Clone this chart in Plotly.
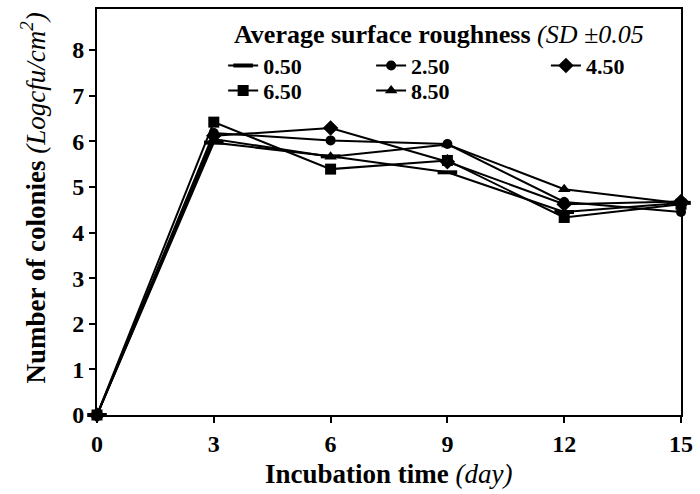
import plotly.graph_objects as go

days = [0, 3, 6, 9, 12, 15]
r050 = [0, 5.97, 5.67, 5.32, 4.45, 4.65]
r250 = [0, 6.18, 6.02, 5.94, 4.67, 4.45]
r450 = [0, 6.12, 6.29, 5.55, 4.62, 4.68]
r650 = [0, 6.42, 5.39, 5.58, 4.33, 4.62]
r850 = [0, 6.05, 5.66, 5.93, 4.95, 4.64]

names = ["0.50", "2.50", "4.50", "6.50", "8.50"]
series = [r050, r250, r450, r650, r850]
symbols = ["line-ew", "circle", "diamond", "square", "triangle-up"]
sizes = [14, 10, 12, 11, 11]
legends = ["legend2", "legend3", "legend4", "legend5", "legend6"]
# legend item positions in pixels (left x, centre y)
leg_pos = [(224, 64), (373, 64), (549, 64), (224, 89), (373, 89)]

FONT = "Liberation Serif, Times New Roman, serif"
L, R, T, B = 97, 685, 7, 415

def px(xp):
    return (xp - L) / (R - L)

def py(yp):
    return (B - yp) / (B - T)

fig = go.Figure()
for n, s, sym, sz, lg in zip(names, series, symbols, sizes, legends):
    mk = dict(symbol=sym, size=sz, color="black")
    if sym == "line-ew":
        mk["line"] = dict(width=4, color="black")
    fig.add_trace(go.Scatter(
        x=days, y=s, name="<b>" + n + "</b>", mode="lines+markers",
        line=dict(color="black", width=2), marker=mk,
        cliponaxis=False, legend=lg, showlegend=True,
    ))

layout_legends = {}
for lg, (lx, ly) in zip(legends, leg_pos):
    layout_legends[lg] = dict(
        x=px(lx), y=py(ly), xanchor="left", yanchor="middle",
        orientation="v",
        font=dict(family=FONT, size=22, color="black"),
        bgcolor="rgba(0,0,0,0)", itemwidth=30,
    )

fig.update_layout(
    width=700, height=494,
    margin=dict(l=L, r=700 - R, t=T, b=494 - B),
    plot_bgcolor="white", paper_bgcolor="white",
    font=dict(family=FONT, color="black"),
    showlegend=True,
    **layout_legends,
    xaxis=dict(
        range=[0, 15], tickvals=[0, 3, 6, 9, 12, 15],
        showline=True, linecolor="black", linewidth=2, mirror=True,
        ticks="outside", ticklen=6, tickwidth=1.5, tickcolor="black",
        showgrid=False, zeroline=False,
        tickfont=dict(family=FONT, size=24, color="black", weight="bold"),
    ),
    yaxis=dict(
        range=[0, 8.9], tickvals=list(range(0, 9)),
        showline=True, linecolor="black", linewidth=2, mirror=True,
        ticks="outside", ticklen=6, tickwidth=1.5, tickcolor="black",
        showgrid=False, zeroline=False,
        tickfont=dict(family=FONT, size=24, color="black", weight="bold"),
    ),
)

fig.add_annotation(
    text="<b>Average surface roughness</b> <i>(SD ±0.05</i>",
    xref="paper", yref="paper", x=px(441), y=py(33),
    xanchor="center", yanchor="middle", showarrow=False,
    font=dict(family=FONT, size=26, color="black"),
)
fig.add_annotation(
    text="<b>Incubation time</b> <i>(day)</i>",
    xref="paper", yref="paper", x=0.5, y=py(474),
    xanchor="center", yanchor="middle", showarrow=False,
    font=dict(family=FONT, size=27, color="black"),
)
fig.add_annotation(
    text="<b>Number of colonies</b> <i>(Logcfu/cm<sup>2</sup>)</i>",
    xref="paper", yref="paper", x=px(33), y=py(197),
    xanchor="center", yanchor="middle", showarrow=False, textangle=-90,
    font=dict(family=FONT, size=27, color="black"),
)

fig.write_html("out.html")
